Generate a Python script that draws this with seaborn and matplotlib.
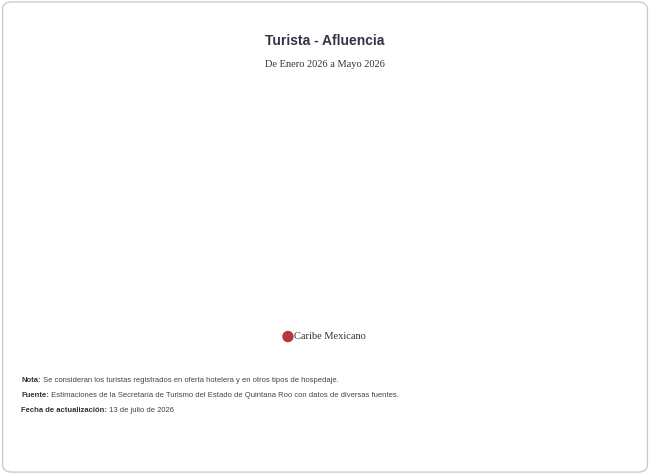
import numpy as np
import pandas as pd
import matplotlib
matplotlib.use('Agg')
import matplotlib.pyplot as plt
import seaborn as sns
from matplotlib.patches import FancyBboxPatch, Circle

meses = ['Enero 2026', 'Febrero 2026', 'Marzo 2026', 'Abril 2026', 'Mayo 2026']
turistas = [1830211, 1650274, 1766283, 1740011, 1564896]
yticks = [1540000, 1610000, 1680000, 1750000, 1820000, 1890000]
color = '#b5494b'

sns.set_theme(style='white')
plt.rcParams['font.family'] = ['Liberation Serif', 'DejaVu Serif']

fig = plt.figure(figsize=(6.5, 4.74), dpi=100)
fig.patches.append(FancyBboxPatch((0.004, 0.004), 0.992, 0.992, boxstyle='round,pad=0,rounding_size=0.015',
                                  transform=fig.transFigure, fc='white', ec='#cccccc', lw=1))
ax = fig.add_axes([0.092, 0.378, 0.865, 0.415])

# curva suave (hermite con tangentes tipo catmull-rom)
x = np.arange(len(turistas))
y = np.array(turistas, dtype=float)
m = np.gradient(y, x)
xs, ys = [], []
for i in range(len(x) - 1):
    t = np.linspace(0, 1, 40)
    h00 = 2*t**3 - 3*t**2 + 1; h10 = t**3 - 2*t**2 + t
    h01 = -2*t**3 + 3*t**2; h11 = t**3 - t**2
    xs.extend(x[i] + t)
    ys.extend(h00*y[i] + h10*m[i] + h01*y[i+1] + h11*m[i+1])
curva = pd.DataFrame({'x': xs, 'y': ys})
sns.lineplot(data=curva, x='x', y='y', ax=ax, color=color, lw=2, sort=False)

for xi, yi in zip(x, turistas):
    ax.annotate(f'{yi:,}', (xi, yi), ha='center', va='center', color='white', fontsize=7.5,
                fontweight='bold', bbox=dict(boxstyle='square,pad=0.25', fc=color, ec='white', lw=0.8))

ax.set_xlim(-0.035, 4.035)
ax.set_ylim(1540000, 1890000)
ax.set_yticks(yticks)
ax.set_yticklabels([f'{v:,}' for v in yticks], fontsize=7, color='#333333')
ax.set_xticks(x)
ax.set_xticklabels(meses, fontsize=7.5, color='#333333')
ax.grid(axis='y', color='#e0e0e0', ls=(0, (6, 5)), lw=0.8)
for s in ['top', 'right', 'left']:
    ax.spines[s].set_visible(False)
ax.spines['bottom'].set_color('#e6e6e6')
ax.tick_params(axis='both', length=0, pad=6)
ax.set_xlabel('')
ax.set_ylabel('')

fig.text(0.5, 0.905, 'Turista - Afluencia', ha='center', fontsize=10, fontweight='bold',
         color='#333344', family=['Liberation Sans', 'DejaVu Sans'])
fig.text(0.5, 0.858, 'De Enero 2026 a Mayo 2026', ha='center', fontsize=7.5, color='#333333')
fig.patches.append(Circle((0.443 * 6.5 * 100, 0.29 * 474), 5, color='#b5373b', transform=None))
fig.text(0.453, 0.29, 'Caribe Mexicano', va='center', fontsize=7.5, color='#333333')

notas = [('Nota:', ' Se consideran los turistas registrados en oferta hotelera y en otros tipos de hospedaje.'),
         ('Fuente:', ' Estimaciones de la Secretaría de Turismo del Estado de Quintana Roo con datos de diversas fuentes.'),
         ('Fecha de actualización:', ' 13 de julio de 2026')]
ypos = [0.195, 0.163, 0.131]
r = fig.canvas.get_renderer()
for (b, t), yy in zip(notas, ypos):
    tb = fig.text(0.033, yy, b, fontsize=5.5, fontweight='bold', color='#333333', family=['Liberation Sans'])
    ext = tb.get_window_extent(renderer=r)
    fig.text(ext.x1 / fig.bbox.width, yy, t, fontsize=5.5, color='#444444', family=['Liberation Sans'])

fig.savefig('out.png', dpi=100)
